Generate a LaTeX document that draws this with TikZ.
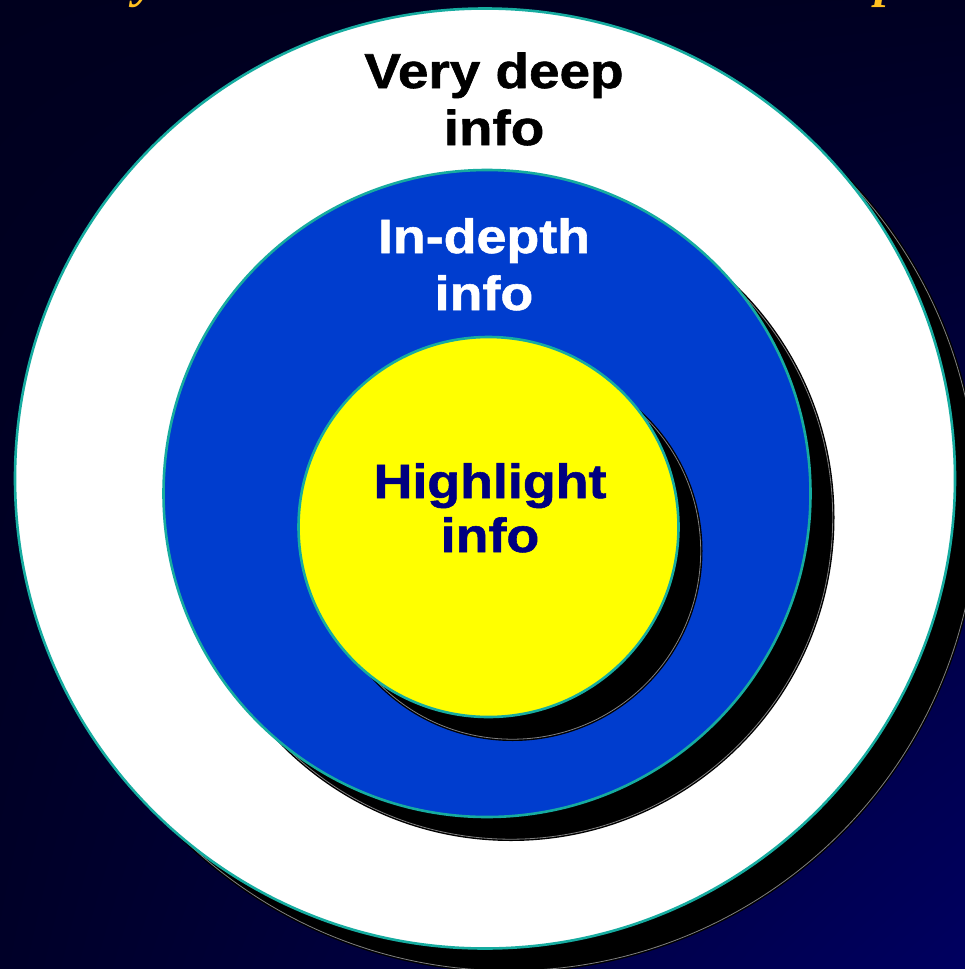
\documentclass[tikz,border=0pt]{standalone}
\usepackage{fontspec}
\usepackage{tikz}
\usetikzlibrary{shadings}
\newfontfamily\lblfont[FakeStretch=1.12, BoldFeatures={FakeBold=1.2}]{Liberation Sans}
\newfontfamily\ttlfont{Liberation Serif}
\definecolor{bgdark}{RGB}{0,0,30}
\definecolor{bgmid}{RGB}{0,0,34}
\definecolor{bgleft}{RGB}{0,0,40}
\definecolor{bgnavy}{RGB}{0,0,96}
\definecolor{ringblue}{RGB}{0,61,206}
\definecolor{ringteal}{RGB}{22,172,160}
\definecolor{txtnavy}{RGB}{0,0,128}
\definecolor{ringyellow}{RGB}{255,255,0}
\definecolor{ttlgold}{RGB}{255,192,32}

\begin{document}
\begin{tikzpicture}[x=1pt, y=-1pt,
    lbl/.style={align=center, font=\lblfont\bfseries\fontsize{48}{57}\selectfont}]
  \useasboundingbox (0,0) rectangle (965,969);
  \clip (0,0) rectangle (965,969);
  \shade[upper left=bgdark, upper right=bgmid, lower left=bgleft, lower right=bgnavy] (0,0) rectangle (965,969);
  % cut-off title
  \node[ttlgold, anchor=base, font=\ttlfont\bfseries\itshape\fontsize{52}{60}\selectfont] (ttly) at (146,-3) {y};
  \node[ttlgold, anchor=base west, font=\ttlfont\bfseries\itshape\fontsize{52}{60}\selectfont] (ttlp) at (872,-3) {p};
  % rings with drop shadows
  \foreach \cx/\cy/\r/\col in {485/478.5/470/white, 487/493.5/323.5/ringblue, 488.5/527/190/ringyellow} {
    \fill[black] (\cx+24,\cy+24) circle (\r);
    \draw[gray, line width=0.8pt] (\cx+24,\cy+24) circle (\r-1.8);
    \filldraw[fill=\col, draw=ringteal, line width=2.6pt] (\cx,\cy) circle (\r);
  }
  \node[lbl, black, font=\lblfont\bfseries\fontsize{49}{57}\selectfont, anchor=base] (deep) at (494,145) {Very deep\\info};
  \node[lbl, white, anchor=base] (depth) at (484,310) {In-depth\\info};
  \node[lbl, txtnavy, font=\lblfont\bfseries\fontsize{48}{54}\selectfont, anchor=base] (high) at (490,552) {Highlight\\info};
\end{tikzpicture}
\end{document}
